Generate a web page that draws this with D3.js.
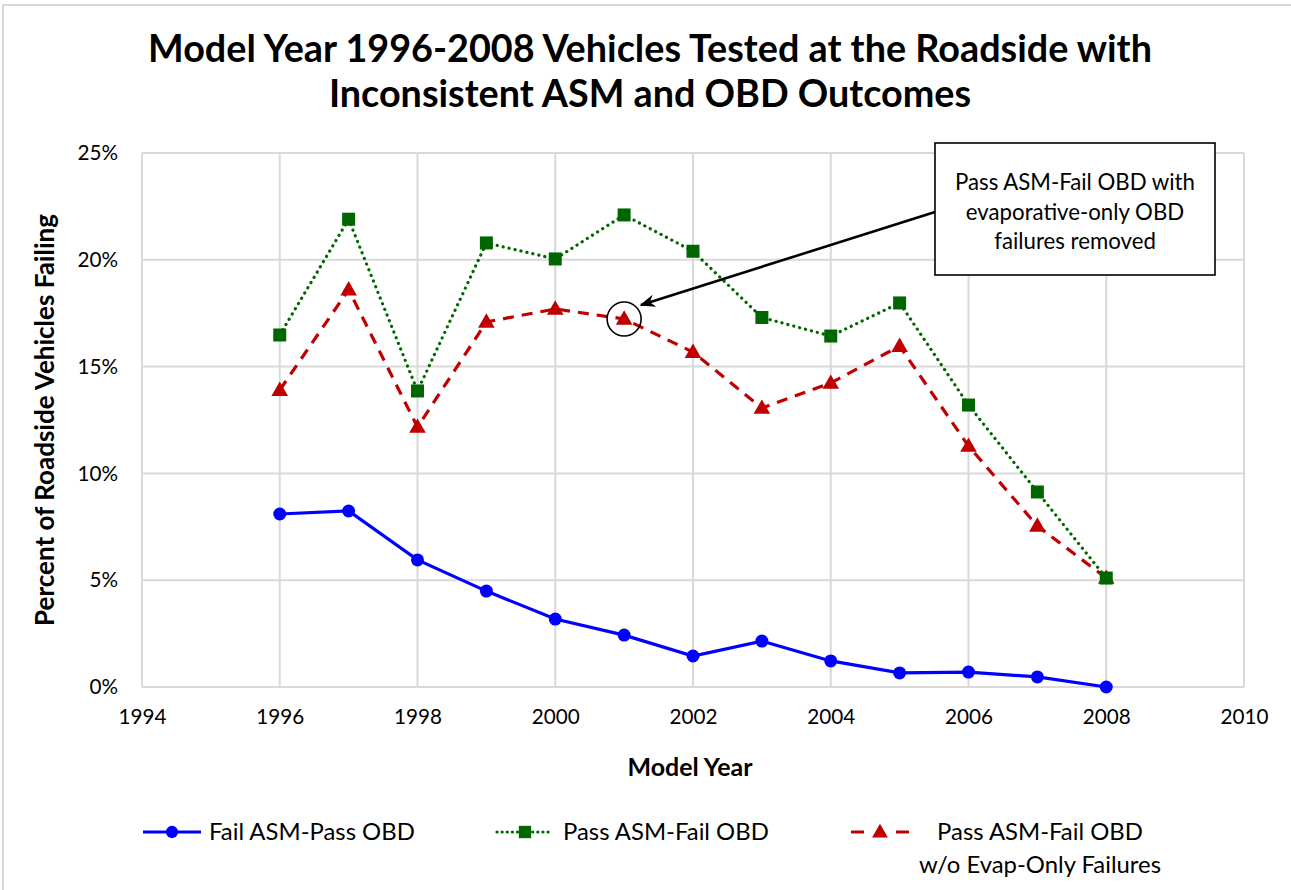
<!DOCTYPE html>
<html>
<head>
<meta charset="utf-8">
<script src="https://cdn.jsdelivr.net/npm/d3@7"></script>
<style>
  body { margin: 0; background: #fff; }
  text { font-family: Lato, "Open Sans", sans-serif; fill: #000; }
</style>
</head>
<body>
<div id="canvas"></div>
<script>
// data
var years = [1996, 1997, 1998, 1999, 2000, 2001, 2002, 2003, 2004, 2005, 2006, 2007, 2008];
var failAsmPassObd = [8.1, 8.24, 5.95, 4.49, 3.18, 2.43, 1.45, 2.15, 1.22, 0.66, 0.7, 0.47, 0.0];
var passAsmFailObd = [16.48, 21.9, 13.86, 20.79, 20.04, 22.1, 20.4, 17.3, 16.43, 17.98, 13.2, 9.13, 5.1];
var passAsmFailObdNoEvap = [13.9, 18.6, 12.17, 17.09, 17.7, 17.23, 15.68, 13.06, 14.23, 15.96, 11.28, 7.54, 5.1];
var xTicks = [1994, 1996, 1998, 2000, 2002, 2004, 2006, 2008, 2010];
var yTicks = [0, 5, 10, 15, 20, 25];
var titleLines = ['Model Year 1996-2008 Vehicles Tested at the Roadside with', 'Inconsistent ASM and OBD Outcomes'];
var noteLines = ['Pass ASM-Fail OBD with', 'evaporative-only OBD', 'failures removed'];

var W = 1291, H = 890;
var svg = d3.select('#canvas').append('svg')
  .attr('width', W)
  .attr('height', H);

// scale a text's font so its width matches what the picture shows
var fit = function (sel, target) {
  var node = sel.node();
  var fs = parseFloat(sel.attr('font-size'));
  return fs * target / node.getComputedTextLength();
};

// outer chart frame
svg.append('path')
  .attr('d', 'M3,' + H + 'V5H' + W)
  .attr('fill', 'none')
  .attr('stroke', '#d9d9d9')
  .attr('stroke-width', 2);

var x = d3.scaleLinear().domain([1994, 2010]).range([142, 1244]);
var y = d3.scaleLinear().domain([0, 25]).range([687, 153]);

// title
var title = svg.selectAll('.title').data(titleLines).enter().append('text')
  .attr('class', 'title')
  .attr('x', 650)
  .attr('y', function (d, i) { return 62 + i * 45; })
  .attr('text-anchor', 'middle')
  .attr('font-size', 33)
  .attr('font-weight', 'bold')
  .text(function (d) { return d; });
title.attr('font-size', fit(title.filter(function (d, i) { return i === 0; }), 1004));

// grid
var grid = svg.append('g');
grid.selectAll('.vg').data(xTicks).enter().append('line')
  .attr('x1', function (d) { return x(d); })
  .attr('x2', function (d) { return x(d); })
  .attr('y1', y(25)).attr('y2', y(0))
  .attr('stroke', '#d9d9d9').attr('stroke-width', 2);
grid.selectAll('.hg').data(yTicks).enter().append('line')
  .attr('x1', x(1994)).attr('x2', x(2010))
  .attr('y1', function (d) { return y(d); })
  .attr('y2', function (d) { return y(d); })
  .attr('stroke', '#d9d9d9').attr('stroke-width', 2);

// axes
var xAxis = svg.append('g')
  .attr('transform', 'translate(0,' + y(0) + ')')
  .call(d3.axisBottom(x).tickValues(xTicks).tickFormat(d3.format('d')).tickSize(0).tickPadding(22));
var yAxis = svg.append('g')
  .attr('transform', 'translate(' + x(1994) + ',0)')
  .call(d3.axisLeft(y).tickValues(yTicks).tickFormat(function (d) { return d + '%'; }).tickSize(0).tickPadding(24));
[xAxis, yAxis].forEach(function (a) {
  a.select('.domain').remove();
  a.selectAll('text').attr('font-size', 19).attr('font-family', 'Lato, sans-serif').attr('fill', '#000');
});
var tickSize = fit(xAxis.select('text'), 48);
xAxis.selectAll('text').attr('font-size', tickSize);
yAxis.selectAll('text').attr('font-size', tickSize);

var xTitle = svg.append('text')
  .attr('x', 690).attr('y', 776)
  .attr('text-anchor', 'middle')
  .attr('font-size', 20).attr('font-weight', 'bold')
  .text('Model Year');
xTitle.attr('font-size', fit(xTitle, 125));

var yTitle = svg.append('text')
  .attr('transform', 'translate(54,420) rotate(-90)')
  .attr('text-anchor', 'middle')
  .attr('font-size', 20).attr('font-weight', 'bold')
  .text('Percent of Roadside Vehicles Failing');
yTitle.attr('font-size', fit(yTitle, 412));

// series
var series = [
  { name: 'blue', values: failAsmPassObd, color: '#0000ff', dash: null, marker: 'circle' },
  { name: 'green', values: passAsmFailObd, color: '#006600', dash: '0.1,6', marker: 'square' },
  { name: 'red', values: passAsmFailObdNoEvap, color: '#c00000', dash: '11,8', marker: 'triangle' }
];

var line = d3.line()
  .x(function (d) { return x(d[0]); })
  .y(function (d) { return y(d[1]); });

var drawMarker = function (g, s, cx, cy, k) {
  k = k || 1;
  if (s.marker === 'circle') {
    g.append('circle').attr('cx', cx).attr('cy', cy).attr('r', 6.5 * k).attr('fill', s.color);
  } else if (s.marker === 'square') {
    g.append('rect').attr('x', cx - 6.5 * k).attr('y', cy - 6.5 * k).attr('width', 13 * k).attr('height', 13 * k).attr('fill', s.color);
  } else {
    g.append('path')
      .attr('d', d3.symbol().type(d3.symbolTriangle).size(120 * k * k))
      .attr('transform', 'translate(' + cx + ',' + (cy + 1) + ')')
      .attr('fill', s.color);
  }
};

// red first so green and blue sit on top like the reference
[series[2], series[1], series[0]].forEach(function (s) {
  var pts = years.map(function (yr, i) { return [yr, s.values[i]]; });
  var g = svg.append('g');
  g.append('path')
    .attr('d', line(pts))
    .attr('fill', 'none')
    .attr('stroke', s.color)
    .attr('stroke-width', 3.2)
    .attr('stroke-linecap', s.marker === 'square' ? 'round' : 'butt')
    .attr('stroke-dasharray', s.dash);
  pts.forEach(function (p) { drawMarker(g, s, x(p[0]), y(p[1])); });
});

// annotation
var hi = y(passAsmFailObdNoEvap[5]);
svg.append('circle')
  .attr('cx', x(2001)).attr('cy', hi)
  .attr('r', 17)
  .attr('fill', 'none').attr('stroke', '#000').attr('stroke-width', 1.6);

svg.append('defs').append('marker')
  .attr('id', 'arrow')
  .attr('viewBox', '0 0 10 10')
  .attr('refX', 9).attr('refY', 5)
  .attr('markerWidth', 6).attr('markerHeight', 6)
  .attr('markerUnits', 'strokeWidth')
  .attr('orient', 'auto')
  .append('path').attr('d', 'M0,1L10,5L0,9L3,5Z').attr('fill', '#000');

svg.append('line')
  .attr('x1', 935).attr('y1', 212)
  .attr('x2', 641).attr('y2', 305)
  .attr('stroke', '#000').attr('stroke-width', 2.6)
  .attr('marker-end', 'url(#arrow)');

svg.append('rect')
  .attr('x', 935).attr('y', 143)
  .attr('width', 280).attr('height', 132)
  .attr('fill', '#fff').attr('stroke', '#000').attr('stroke-width', 1.6);

var note = svg.selectAll('.note').data(noteLines).enter().append('text')
  .attr('class', 'note')
  .attr('x', 1075)
  .attr('y', function (d, i) { return 190 + i * 29.5; })
  .attr('text-anchor', 'middle')
  .attr('font-size', 18.5)
  .text(function (d) { return d; });
note.attr('font-size', fit(note.filter(function (d, i) { return i === 0; }), 240));

// legend
var legend = [
  { s: series[0], x0: 143, x1: 201, tx: 209, lines: ['Fail ASM-Pass OBD'], dash: null },
  { s: series[1], x0: 497, x1: 553, tx: 563, lines: ['Pass ASM-Fail OBD'], dash: '0.1,5' },
  { s: series[2], x0: 851, x1: 909, tx: 1040, lines: ['Pass ASM-Fail OBD', 'w/o Evap-Only Failures'], dash: '13,32' }
];
var ly = 832;
var legendTexts = [];
legend.forEach(function (l) {
  var g = svg.append('g');
  g.append('line')
    .attr('x1', l.x0).attr('x2', l.x1)
    .attr('y1', ly).attr('y2', ly)
    .attr('stroke', l.s.color).attr('stroke-width', 3.2)
    .attr('stroke-linecap', l.s.marker === 'square' ? 'round' : 'butt')
    .attr('stroke-dasharray', l.dash);
  drawMarker(g, l.s, (l.x0 + l.x1) / 2, ly, 0.95);
  l.lines.forEach(function (t, i) {
    legendTexts.push(g.append('text')
      .attr('x', l.tx)
      .attr('y', ly + 8 + i * 33)
      .attr('text-anchor', l.lines.length > 1 ? 'middle' : 'start')
      .attr('font-size', 19)
      .text(t));
  });
});
var legendSize = fit(legendTexts[0], 206);
legendTexts.forEach(function (t) { t.attr('font-size', legendSize); });
</script>
</body>
</html>
